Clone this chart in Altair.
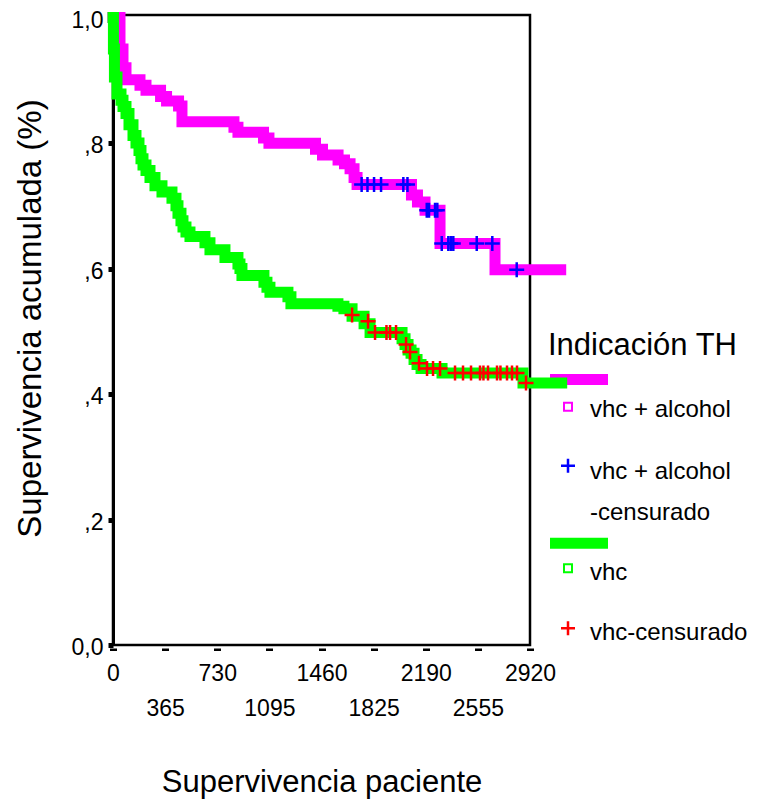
import altair as alt
import pandas as pd

# ---- data (days, cumulative survival) ----
alc_t = [0, 49, 70, 91, 189, 231, 333, 375, 459, 483, 847, 875, 1054, 1092, 1418, 1467,
         1576, 1621, 1660, 1688, 1709, 2090, 2132, 2185, 2290, 2675, 3135]
alc_s = [1.0, 0.95, 0.92, 0.901, 0.892, 0.884, 0.874, 0.867, 0.859, 0.834, 0.825, 0.817,
         0.808, 0.7995, 0.79, 0.781, 0.773, 0.767, 0.759, 0.745, 0.734, 0.717, 0.706, 0.693,
         0.640, 0.598, 0.598]

vhc_t = [0, 3, 10, 28, 56, 70, 91, 112, 140, 161, 182, 196, 210, 231, 259, 294, 343, 413,
         441, 455, 476, 490, 511, 539, 644, 679, 784, 875, 889, 903, 1057, 1078, 1099, 1225,
         1246, 1575, 1617, 1674, 1758, 1800, 2024, 2045, 2066, 2087, 2108, 2129, 2157, 2304,
         2871, 3142]
vhc_s = [1.0, 0.95, 0.905, 0.878, 0.868, 0.858, 0.847, 0.829, 0.812, 0.800, 0.788, 0.775,
         0.765, 0.756, 0.745, 0.732, 0.722, 0.712, 0.700, 0.688, 0.676, 0.666, 0.658, 0.651,
         0.641, 0.630, 0.6175, 0.607, 0.600, 0.589, 0.578, 0.570, 0.562, 0.555, 0.5437, 0.540,
         0.536, 0.524, 0.512, 0.498, 0.488, 0.479, 0.470, 0.465, 0.455, 0.447, 0.4405, 0.4333,
         0.4175, 0.4175]

alc_cens_t = [1741, 1782, 1828, 1877, 2033, 2062, 2197, 2213, 2255, 2271, 2302, 2348, 2365,
              2383, 2547, 2656, 2827]
alc_cens_s = [0.734] * 6 + [0.693] * 4 + [0.640] * 6 + [0.598]

vhc_cens_t = [1674, 1786, 1835, 1915, 1940, 1982, 2052, 2080, 2143, 2199, 2241, 2290, 2395,
              2451, 2507, 2570, 2594, 2626, 2689, 2713, 2759, 2794, 2829, 2892]
vhc_cens_s = [0.526, 0.516, 0.498, 0.498, 0.498, 0.498, 0.479, 0.467, 0.449, 0.4405, 0.4405,
              0.4405] + [0.4333] * 11 + [0.4175]

x_ticks = [0, 365, 730, 1095, 1460, 1825, 2190, 2555, 2920]
y_ticks = [0, 0.2, 0.4, 0.6, 0.8, 1.0]

legend_title = "Indicación TH"
legend_labels = ["vhc + alcohol", "vhc + alcohol", "-censurado", "vhc", "vhc-censurado"]

MAG = "#ff00ff"
GRN = "#00ff00"
BLU = "#0000ff"
RED = "#ff0000"
FONT = "Liberation Sans"
PLUS = "M-1,0L1,0M0,-1L0,1"

alc = pd.DataFrame({"t": alc_t, "s": alc_s})
vhc = pd.DataFrame({"t": vhc_t, "s": vhc_s})
alc_c = pd.DataFrame({"t": alc_cens_t, "s": alc_cens_s})
vhc_c = pd.DataFrame({"t": vhc_cens_t, "s": vhc_cens_s})
one = pd.DataFrame({"a": [0]})

xscale = alt.Scale(domain=[0, 2920], nice=False, zero=False)
yscale = alt.Scale(domain=[0, 1.004], nice=False)

x_axis = alt.Axis(
    values=x_ticks, format="d", grid=False, domain=False, offset=3,
    tickSize=2.5, tickWidth=7, tickColor="black",
    labelExpr="datum.value % 730 == 0 ? datum.label : ['', datum.label]",
    labelLineHeight=35, labelFontSize=23, labelColor="black", labelPadding=12,
    labelFlush=False, labelOverlap=False, labelBound=False,
    titleFontSize=31, titleFontWeight="normal", titleColor="black",
    titleY=134, titleBaseline="middle",
)
y_axis = alt.Axis(
    values=y_ticks, grid=False, domain=True, domainColor="black", domainWidth=3,
    tickSize=5, tickWidth=5, tickColor="black",
    labelExpr="datum.value == 0 ? '0,0' : (datum.value == 1 ? '1,0' : ',' + format(datum.value * 10, 'd'))",
    labelFontSize=23, labelColor="black", labelPadding=5, labelFlush=False,
    labelOffset=2.5,
    titleFontSize=33, titleFontWeight="normal", titleColor="black",
    titleX=-83, titleY=303, titleAngle=-90, titleAlign="center", titleBaseline="middle",
)

x_enc = alt.X("t:Q", scale=xscale, axis=x_axis, title="Supervivencia paciente")
y_enc = alt.Y("s:Q", scale=yscale, axis=y_axis, title="Supervivencia acumulada (%)")

line_kw = dict(interpolate="step-after", strokeWidth=11, strokeCap="square",
               strokeJoin="miter", clip=False)

alc_line = alt.Chart(alc).mark_line(color=MAG, **line_kw).encode(x=x_enc, y=y_enc)
vhc_line = alt.Chart(vhc).mark_line(color=GRN, **line_kw).encode(x="t:Q", y="s:Q")

cross_kw = dict(shape=PLUS, filled=False, size=225, strokeWidth=2.5, opacity=1)
alc_cross = alt.Chart(alc_c).mark_point(color=BLU, **cross_kw).encode(x="t:Q", y="s:Q")
vhc_cross = alt.Chart(vhc_c).mark_point(color=RED, **cross_kw).encode(x="t:Q", y="s:Q")

# ---- hand-built legend to the right of the plot ----
def ltext(txt, x, y, size=24):
    return alt.Chart(one).mark_text(
        align="left", baseline="middle", font=FONT, fontSize=size, color="black"
    ).encode(x=alt.value(x), y=alt.value(y), text=alt.value(txt))


def lline(color, y):
    return alt.Chart(one).mark_rule(color=color, strokeWidth=11, strokeCap="butt").encode(
        x=alt.value(437), x2=alt.value(495), y=alt.value(y))


def lsym(shape, color, y, size, sw):
    return alt.Chart(one).mark_point(
        shape=shape, filled=False, color=color, size=size, strokeWidth=sw, opacity=1
    ).encode(x=alt.value(455), y=alt.value(y))


leg_mag_line = lline(MAG, 364.5)
legend_rest = [
    ltext(legend_title, 435, 331, 31),
    lsym("square", MAG, 391.7, 64, 2),
    ltext(legend_labels[0], 477, 395),
    lsym(PLUS, BLU, 450.7, 196, 2.5),
    ltext(legend_labels[1], 477, 456.7),
    ltext(legend_labels[2], 477, 498),
    lline(GRN, 528.3),
    lsym("square", GRN, 553.3, 64, 2),
    ltext(legend_labels[3], 477, 558),
    lsym(PLUS, RED, 613.3, 196, 2.5),
    ltext(legend_labels[4], 477, 618),
]

chart = alt.layer(
    alc_line, leg_mag_line, vhc_line, alc_cross, vhc_cross, *legend_rest
).properties(
    width=417, height=630,
    autosize=alt.AutoSizeParams(type="none"),
    padding={"left": 105, "top": 7, "right": 220, "bottom": 155},
).configure(
    font=FONT,
).configure_view(
    stroke="black", strokeWidth=2.5,
)

chart.save("out.html", embed_options={"renderer": "svg", "actions": False})
